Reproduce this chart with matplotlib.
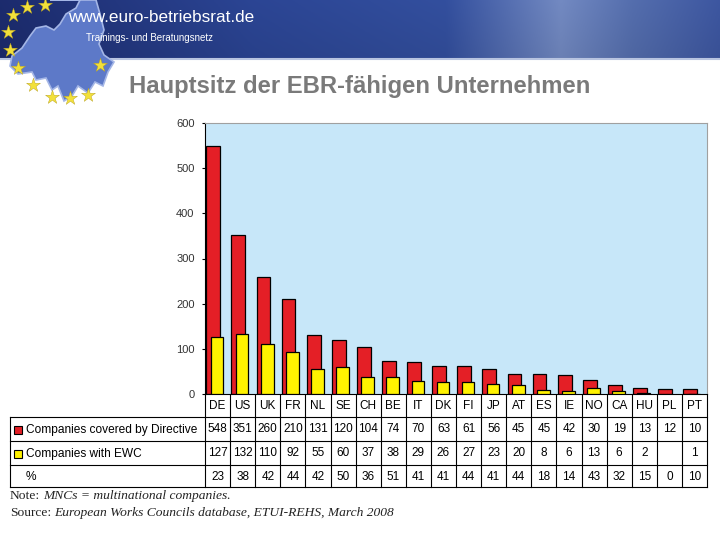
import matplotlib
matplotlib.use('Agg')
import matplotlib.pyplot as plt
import numpy as np
from matplotlib.patches import Polygon, Rectangle

countries = ['DE', 'US', 'UK', 'FR', 'NL', 'SE', 'CH', 'BE', 'IT', 'DK',
             'FI', 'JP', 'AT', 'ES', 'IE', 'NO', 'CA', 'HU', 'PL', 'PT']
covered = [548, 351, 260, 210, 131, 120, 104, 74, 70, 63,
           61, 56, 45, 45, 42, 30, 19, 13, 12, 10]
with_ewc = [127, 132, 110, 92, 55, 60, 37, 38, 29, 26,
            27, 23, 20, 8, 6, 13, 6, 2, None, 1]
percent = [23, 38, 42, 44, 42, 50, 36, 51, 41, 41,
           44, 41, 44, 18, 14, 43, 32, 15, 0, 10]
yticks = [0, 100, 200, 300, 400, 500, 600]

RED = '#e41f26'
YELLOW = '#fff200'
SANS = ['Liberation Sans', 'DejaVu Sans']
SERIF = ['Liberation Serif', 'DejaVu Serif']

W, H = 720, 540
fig = plt.figure(figsize=(7.2, 5.4), dpi=100)
fig.patch.set_facecolor('white')

# full-figure axes in pixel units for banner, table and notes
bg = fig.add_axes([0, 0, 1, 1])
bg.set_xlim(0, W)
bg.set_ylim(H, 0)
bg.axis('off')

# --- banner -------------------------------------------------------------
xs = np.linspace(0, 1, 400)
stops = [0.0, 0.35, 0.62, 0.78, 0.88, 1.0]
cols = np.array([[0.11, 0.17, 0.43], [0.17, 0.27, 0.58], [0.20, 0.31, 0.62],
                 [0.45, 0.54, 0.76], [0.33, 0.43, 0.68], [0.24, 0.34, 0.63]])
grad = np.stack([np.interp(xs, stops, cols[:, k]) for k in range(3)], axis=-1)
rows = np.linspace(1.0, 0.93, 40)[:, None, None]
img = np.clip(grad[None, :, :] * rows, 0, 1)
bg.imshow(img, extent=[0, W, 58, 0], aspect='auto', zorder=1)
bg.plot([0, W], [58.5, 58.5], color='#b8c4e0', lw=1.5, zorder=2)

# rough Europe silhouette and stars
europe = [(50, 0), (80, 0), (76, 8), (66, 14), (60, 24), (54, 30), (46, 26),
          (36, 28), (30, 36), (22, 48), (12, 56), (10, 66), (18, 74), (32, 72),
          (36, 80), (46, 78), (52, 90), (58, 86), (64, 101), (72, 96),
          (78, 86), (88, 93), (95, 82), (103, 86), (108, 72), (114, 62),
          (104, 55), (99, 44), (104, 30), (100, 14), (96, 0)]
bg.add_patch(Polygon(europe, closed=True, facecolor='#5d79c8',
                     edgecolor='#a4b6e6', lw=1.2, zorder=3))
stars_x = [13, 27, 45, 8, 10, 18, 33, 52, 70, 88, 100]
stars_y = [15, 7, 5, 32, 50, 68, 85, 97, 98, 95, 65]
bg.scatter(stars_x, stars_y, marker='*', s=110, color='#f2e03a',
           edgecolor='#b8a020', linewidth=0.3, zorder=4)

bg.text(68, 18, 'www.euro-betriebsrat.de', color='white', fontsize=12.3,
        family=SANS, va='center', zorder=5)
bg.text(86, 38, 'Trainings- und Beratungsnetz', color='white', fontsize=7,
        family=SANS, va='center', zorder=5)

bg.text(129, 86, 'Hauptsitz der EBR-fähigen Unternehmen', color='#7a7a7a',
        fontsize=17.2, fontweight='bold', family=SANS, va='center', zorder=5)

# --- bar chart ----------------------------------------------------------
ax_l, ax_t, ax_r, ax_b = 205, 123, 707, 394
ax = fig.add_axes([ax_l / W, 1 - ax_b / H, (ax_r - ax_l) / W, (ax_b - ax_t) / H])
ax.set_facecolor('#c7e7f9')
n = len(countries)
x = np.arange(n)
ax.bar(x - 0.17, covered, width=0.55, color=RED, edgecolor='black',
       linewidth=0.9, zorder=2)
idx = [i for i, v in enumerate(with_ewc) if v is not None]
ax.bar(x[idx] - 0.02, [with_ewc[i] for i in idx], width=0.5, color=YELLOW,
       edgecolor='black', linewidth=0.9, zorder=3)
ax.set_xlim(-0.5, n - 0.5)
ax.set_ylim(0, 600)
ax.set_yticks(yticks)
ax.set_yticklabels([str(t) for t in yticks], family=SANS, fontsize=8,
                   color='#333333')
ax.set_xticks([])
ax.tick_params(axis='y', direction='out', length=2.5, width=0.8, pad=5)
for s in ['top', 'right']:
    ax.spines[s].set_color('#a0a0a0')
ax.spines['left'].set_color('black')
ax.spines['bottom'].set_color('black')

# --- data table ---------------------------------------------------------
col_w = (ax_r - ax_l) / n
row_y = [394, 417, 441, 465, 487]
tbl_l = 10
lw = 0.8
for yy in row_y[1:]:
    bg.plot([tbl_l, ax_r], [yy, yy], color='black', lw=lw, zorder=5)
bg.plot([tbl_l, tbl_l], [row_y[1], row_y[-1]], color='black', lw=lw, zorder=5)
for i in range(n + 1):
    xx = ax_l + i * col_w
    bg.plot([xx, xx], [row_y[0], row_y[-1]], color='black', lw=lw, zorder=5)

row_vals = [countries,
            [str(v) for v in covered],
            ['' if v is None else str(v) for v in with_ewc],
            [str(v) for v in percent]]
for r, vals in enumerate(row_vals):
    yc = (row_y[r] + row_y[r + 1]) / 2 + 0.5
    for i, v in enumerate(vals):
        bg.text(ax_l + (i + 0.5) * col_w, yc, v, ha='center', va='center',
                fontsize=8.5, family=SANS, color='black', zorder=6)

labels = ['Companies covered by Directive', 'Companies with EWC', '%']
swatches = [RED, YELLOW, None]
for r, (lab, sw) in enumerate(zip(labels, swatches)):
    yc = (row_y[r + 1] + row_y[r + 2]) / 2 + 0.5
    if sw is not None:
        bg.add_patch(Rectangle((14, yc - 4), 8, 8, facecolor=sw,
                               edgecolor='black', lw=0.8, zorder=6))
    bg.text(26, yc, lab, ha='left', va='center', fontsize=8.6, family=SANS,
            color='black', zorder=6)

# --- notes --------------------------------------------------------------
renderer = fig.canvas.get_renderer()
def mixed(y, plain, italic):
    t = bg.text(10, y, plain, fontsize=9.7, family=SERIF, va='center',
                color='#222222', zorder=6)
    ext = t.get_window_extent(renderer=renderer)
    bg.text(ext.x1 + 3, y, italic, fontsize=9.7, family=SERIF, style='italic',
            va='center', color='#222222', zorder=6)

mixed(496, 'Note:', 'MNCs = multinational companies.')
mixed(513, 'Source:', 'European Works Councils database, ETUI-REHS, March 2008')

fig.savefig('out.png', dpi=100, facecolor='white')
